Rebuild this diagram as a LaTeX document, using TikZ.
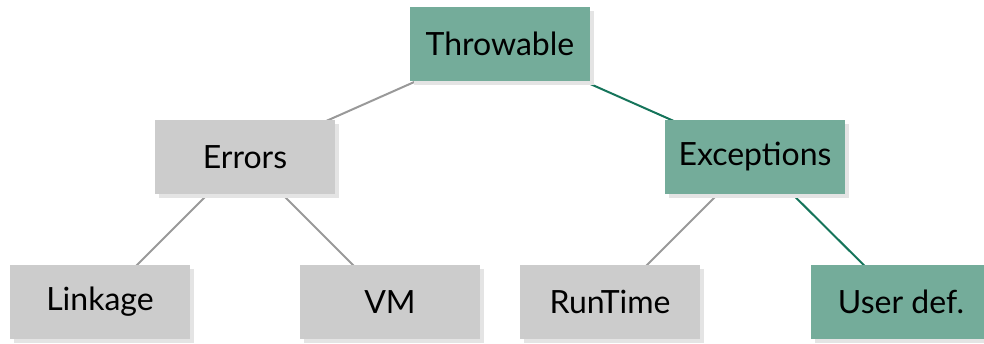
\documentclass[tikz,border=0pt]{standalone}
\usepackage{fontspec}
\setmainfont{Lato}
\usetikzlibrary{backgrounds,shadows}
\definecolor{tealbox}{HTML}{74AC9A}
\definecolor{graybox}{HTML}{CCCCCC}
\definecolor{shadowgray}{HTML}{E4E4E4}
\definecolor{grayline}{HTML}{999999}
\definecolor{tealline}{HTML}{15745A}
\begin{document}
\begin{tikzpicture}[x=1pt,y=-1pt,
  box/.style={minimum width=180pt, minimum height=74pt, inner sep=0pt,
    font=\fontsize{32}{34}\selectfont, text=black,
    drop shadow={shadow xshift=4pt, shadow yshift=-4pt, fill=shadowgray, opacity=1}},
  tbox/.style={box, fill=tealbox},
  gbox/.style={box, fill=graybox},
  gline/.style={draw=grayline, line width=2pt},
  tline/.style={draw=tealline, line width=2pt}]
\useasboundingbox (0,0) rectangle (984,344);
\begin{scope}
\clip (0,0) rectangle (984,344);
\node[tbox] (thr) at (500,44) {Throwable};
\node[gbox] (err) at (245,157) {Errors};
\node[tbox] (exc) at (755,157) {Exceptions};
\node[gbox] (lnk) at (100,302) {Linkage};
\node[gbox] (vm) at (390,302) {VM};
\node[gbox] (rt) at (610,302) {RunTime};
\node[tbox] (usr) at (901,302) {User def.};
\begin{scope}[on background layer]
\draw[gline] (thr.center) -- (err.center);
\draw[tline] (thr.center) -- (exc.center);
\draw[gline] (err.center) -- (lnk.center);
\draw[gline] (err.center) -- (vm.center);
\draw[gline] (exc.center) -- (rt.center);
\draw[tline] (exc.center) -- (usr.center);
\end{scope}
\end{scope}
\end{tikzpicture}
\end{document}
